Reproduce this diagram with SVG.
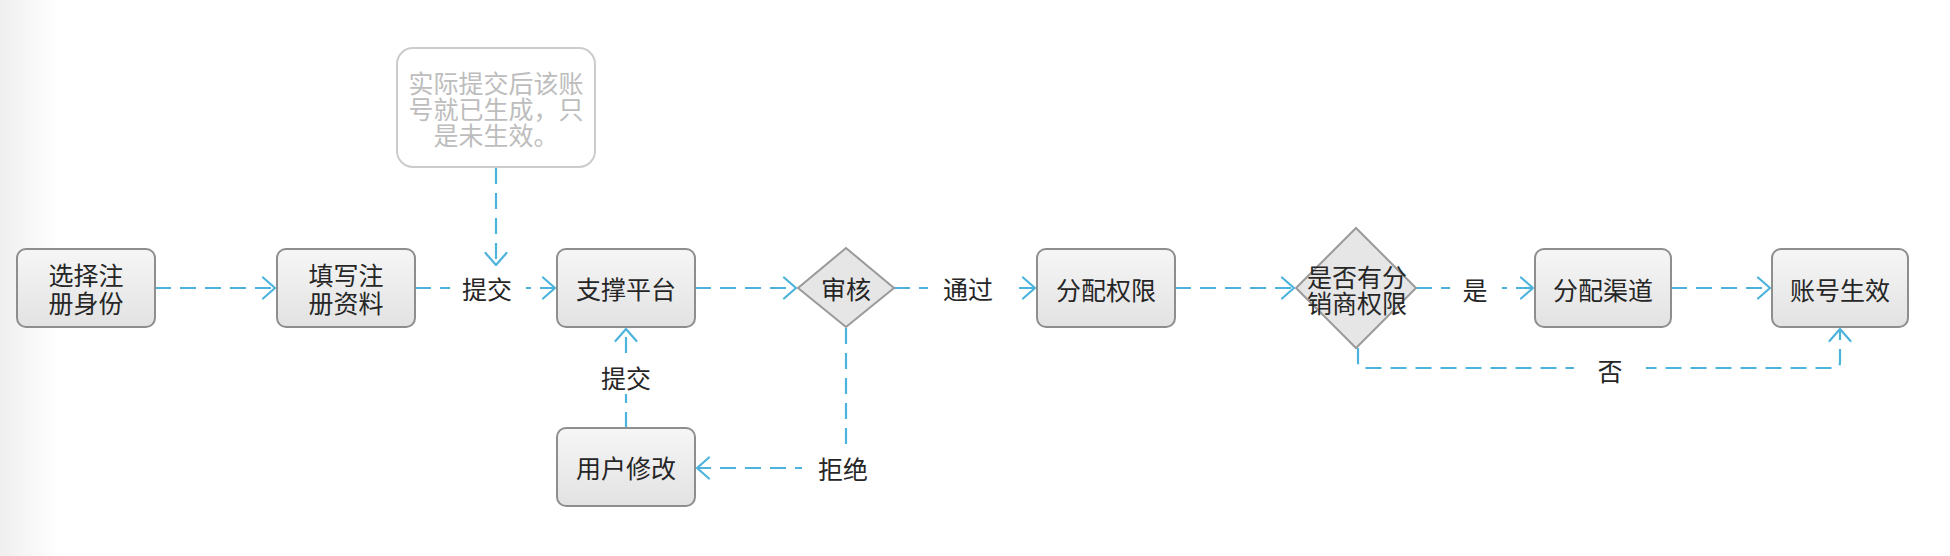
<svg xmlns="http://www.w3.org/2000/svg" width="1950" height="556" viewBox="0 0 1950 556">
<defs>
<linearGradient id="bg" x1="0" y1="0" x2="1" y2="0">
<stop offset="0" stop-color="#efefef"/>
<stop offset="1" stop-color="#ffffff"/>
</linearGradient>
<linearGradient id="nodefill" x1="0" y1="0" x2="0" y2="1">
<stop offset="0" stop-color="#f6f6f6"/>
<stop offset="1" stop-color="#e2e2e2"/>
</linearGradient>
<marker id="arr" viewBox="0 0 16 24" refX="14" refY="12" markerWidth="16" markerHeight="24" markerUnits="userSpaceOnUse" orient="auto">
<path d="M2 1.5 L14 12 L2 22.5" fill="none" stroke="#4cb3dd" stroke-width="2.2" stroke-linecap="round" stroke-linejoin="round"/>
</marker>
</defs>
<style>
.box{fill:url(#nodefill);stroke:#8e8e8e;stroke-width:2}
.dia{fill:#e6e6e6;stroke:#9a9a9a;stroke-width:2}
.t{font-family:"Noto Sans CJK SC","Noto Sans",sans-serif;font-size:25px;fill:#262626;text-anchor:middle;dominant-baseline:central}
.note{fill:#ffffff;stroke:#cccccc;stroke-width:2}
.nt{font-family:"Noto Sans CJK SC","Noto Sans",sans-serif;font-size:25px;fill:#bdbdbd;text-anchor:middle;dominant-baseline:central}
.e{fill:none;stroke:#4cb3dd;stroke-width:2.2;stroke-dasharray:16 9}
.lb{fill:#ffffff}
</style>
<rect x="0" y="0" width="60" height="556" fill="url(#bg)"/>
<g id="connectors">
<path class="e" d="M155 288 L275 288" marker-end="url(#arr)"/>
<path class="e" d="M415 288 L555 288" marker-end="url(#arr)"/>
<path class="e" d="M695 288 L796 288" marker-end="url(#arr)"/>
<path class="e" d="M894 288 L1035 288" marker-end="url(#arr)"/>
<path class="e" d="M846 328 L846 468 L697 468" marker-end="url(#arr)"/>
<path class="e" d="M626 428 L626 329" marker-end="url(#arr)"/>
<path class="e" d="M1175 288 L1294 288" marker-end="url(#arr)"/>
<path class="e" d="M1416 288 L1533 288" marker-end="url(#arr)"/>
<path class="e" d="M1671 288 L1770 288" marker-end="url(#arr)"/>
<path class="e" d="M1358 348 L1358 362 Q1358 368 1364 368 L1834 368 Q1840 368 1840 362 L1840 329" marker-end="url(#arr)"/>
<path class="e" d="M496 168 L496 265" marker-end="url(#arr)"/>
<rect class="lb" x="450" y="272" width="76" height="32"/>
<text class="t" x="487" y="288">提交</text>
<rect class="lb" x="928" y="272" width="84" height="32"/>
<text class="t" x="968" y="288">通过</text>
<rect class="lb" x="802" y="450" width="84" height="36"/>
<text class="t" x="843" y="468">拒绝</text>
<rect class="lb" x="590" y="360" width="72" height="34"/>
<text class="t" x="626" y="377">提交</text>
<rect class="lb" x="1450" y="272" width="52" height="32"/>
<text class="t" x="1475" y="289">是</text>
<rect class="lb" x="1574" y="354" width="72" height="32"/>
<text class="t" x="1610" y="370">否</text>
</g>
<g id="n1"><rect class="box" x="17" y="249" width="138" height="78" rx="9"/><text class="t" x="86" y="274">选择注</text><text class="t" x="86" y="302">册身份</text></g>
<g id="n2"><rect class="box" x="277" y="249" width="138" height="78" rx="9"/><text class="t" x="346" y="274">填写注</text><text class="t" x="346" y="302">册资料</text></g>
<g id="note"><rect class="note" x="397" y="48" width="198" height="119" rx="16"/><text class="nt" x="496" y="82">实际提交后该账</text><text class="nt" x="496" y="108">号就已生成，只</text><text class="nt" x="496" y="134">是未生效。</text></g>
<g id="n3"><rect class="box" x="557" y="249" width="138" height="78" rx="9"/><text class="t" x="626" y="288">支撑平台</text></g>
<g id="d1"><polygon class="dia" points="846,248 894,288 846,327 798,288"/><text class="t" x="846" y="288">审核</text></g>
<g id="n7"><rect class="box" x="557" y="428" width="138" height="78" rx="9"/><text class="t" x="626" y="467">用户修改</text></g>
<g id="n4"><rect class="box" x="1037" y="249" width="138" height="78" rx="9"/><text class="t" x="1106" y="289">分配权限</text></g>
<g id="d2"><polygon class="dia" points="1356,228 1416,288 1356,348 1296,288"/><text class="t" x="1357" y="276">是否有分</text><text class="t" x="1357" y="302">销商权限</text></g>
<g id="n5"><rect class="box" x="1535" y="249" width="136" height="78" rx="9"/><text class="t" x="1603" y="289">分配渠道</text></g>
<g id="n6"><rect class="box" x="1772" y="249" width="136" height="78" rx="9"/><text class="t" x="1840" y="289">账号生效</text></g>
</svg>
